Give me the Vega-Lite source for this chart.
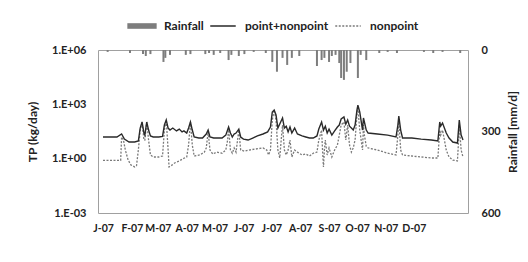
{
  "$schema": "https://vega.github.io/schema/vega-lite/v6.json",
  "width": 370,
  "height": 163,
  "autosize": "none",
  "padding": {"left": 98, "top": 50, "right": 60, "bottom": 49},
  "background": "white",
  "config": {
    "view": {"stroke": "#a0a0a0", "strokeWidth": 1},
    "font": "Lato",
    "axis": {"labelFont": "Lato", "labelFontWeight": "bold", "labelFontSize": 11, "labelColor": "#222", "titleFont": "Lato", "titleFontWeight": "bold", "titleFontSize": 12, "titleColor": "#222", "grid": false, "ticks": false, "domain": false, "labelOverlap": false},
    "axisX": {"labelOverlap": false, "labelSeparation": 0}
  },
  "datasets": {
    "tp": [
      {"date": "2007-01-01", "series": "point+nonpoint", "tp": 15.7},
      {"date": "2007-01-08", "series": "point+nonpoint", "tp": 15.7},
      {"date": "2007-01-16", "series": "point+nonpoint", "tp": 15.7},
      {"date": "2007-01-21", "series": "point+nonpoint", "tp": 23},
      {"date": "2007-01-24", "series": "point+nonpoint", "tp": 12},
      {"date": "2007-01-29", "series": "point+nonpoint", "tp": 8.3},
      {"date": "2007-02-04", "series": "point+nonpoint", "tp": 8.3},
      {"date": "2007-02-08", "series": "point+nonpoint", "tp": 9.4},
      {"date": "2007-02-10", "series": "point+nonpoint", "tp": 49},
      {"date": "2007-02-12", "series": "point+nonpoint", "tp": 106},
      {"date": "2007-02-14", "series": "point+nonpoint", "tp": 26},
      {"date": "2007-02-15", "series": "point+nonpoint", "tp": 20},
      {"date": "2007-02-17", "series": "point+nonpoint", "tp": 106},
      {"date": "2007-02-19", "series": "point+nonpoint", "tp": 38},
      {"date": "2007-02-21", "series": "point+nonpoint", "tp": 18},
      {"date": "2007-02-24", "series": "point+nonpoint", "tp": 15.7},
      {"date": "2007-03-02", "series": "point+nonpoint", "tp": 15.7},
      {"date": "2007-03-06", "series": "point+nonpoint", "tp": 17},
      {"date": "2007-03-08", "series": "point+nonpoint", "tp": 72},
      {"date": "2007-03-10", "series": "point+nonpoint", "tp": 136},
      {"date": "2007-03-12", "series": "point+nonpoint", "tp": 49},
      {"date": "2007-03-14", "series": "point+nonpoint", "tp": 38},
      {"date": "2007-03-17", "series": "point+nonpoint", "tp": 49},
      {"date": "2007-03-21", "series": "point+nonpoint", "tp": 34},
      {"date": "2007-03-24", "series": "point+nonpoint", "tp": 43},
      {"date": "2007-03-27", "series": "point+nonpoint", "tp": 30},
      {"date": "2007-03-29", "series": "point+nonpoint", "tp": 34},
      {"date": "2007-04-01", "series": "point+nonpoint", "tp": 26},
      {"date": "2007-04-03", "series": "point+nonpoint", "tp": 49},
      {"date": "2007-04-05", "series": "point+nonpoint", "tp": 106},
      {"date": "2007-04-07", "series": "point+nonpoint", "tp": 38},
      {"date": "2007-04-09", "series": "point+nonpoint", "tp": 15.7},
      {"date": "2007-04-14", "series": "point+nonpoint", "tp": 13.8},
      {"date": "2007-04-18", "series": "point+nonpoint", "tp": 13.8},
      {"date": "2007-04-22", "series": "point+nonpoint", "tp": 23},
      {"date": "2007-04-24", "series": "point+nonpoint", "tp": 38},
      {"date": "2007-04-26", "series": "point+nonpoint", "tp": 15.7},
      {"date": "2007-04-30", "series": "point+nonpoint", "tp": 13.8},
      {"date": "2007-05-09", "series": "point+nonpoint", "tp": 13.8},
      {"date": "2007-05-13", "series": "point+nonpoint", "tp": 20},
      {"date": "2007-05-16", "series": "point+nonpoint", "tp": 56},
      {"date": "2007-05-18", "series": "point+nonpoint", "tp": 26},
      {"date": "2007-05-20", "series": "point+nonpoint", "tp": 15.7},
      {"date": "2007-05-22", "series": "point+nonpoint", "tp": 23},
      {"date": "2007-05-24", "series": "point+nonpoint", "tp": 26},
      {"date": "2007-05-27", "series": "point+nonpoint", "tp": 43},
      {"date": "2007-05-29", "series": "point+nonpoint", "tp": 15.7},
      {"date": "2007-06-01", "series": "point+nonpoint", "tp": 12},
      {"date": "2007-06-06", "series": "point+nonpoint", "tp": 10.7},
      {"date": "2007-06-11", "series": "point+nonpoint", "tp": 13.8},
      {"date": "2007-06-16", "series": "point+nonpoint", "tp": 18},
      {"date": "2007-06-22", "series": "point+nonpoint", "tp": 23},
      {"date": "2007-06-27", "series": "point+nonpoint", "tp": 30},
      {"date": "2007-06-30", "series": "point+nonpoint", "tp": 56},
      {"date": "2007-07-02", "series": "point+nonpoint", "tp": 380},
      {"date": "2007-07-04", "series": "point+nonpoint", "tp": 486},
      {"date": "2007-07-06", "series": "point+nonpoint", "tp": 259},
      {"date": "2007-07-08", "series": "point+nonpoint", "tp": 49},
      {"date": "2007-07-11", "series": "point+nonpoint", "tp": 106},
      {"date": "2007-07-13", "series": "point+nonpoint", "tp": 176},
      {"date": "2007-07-15", "series": "point+nonpoint", "tp": 49},
      {"date": "2007-07-17", "series": "point+nonpoint", "tp": 62},
      {"date": "2007-07-19", "series": "point+nonpoint", "tp": 30},
      {"date": "2007-07-21", "series": "point+nonpoint", "tp": 56},
      {"date": "2007-07-23", "series": "point+nonpoint", "tp": 26},
      {"date": "2007-07-26", "series": "point+nonpoint", "tp": 49},
      {"date": "2007-07-29", "series": "point+nonpoint", "tp": 23},
      {"date": "2007-08-03", "series": "point+nonpoint", "tp": 18},
      {"date": "2007-08-07", "series": "point+nonpoint", "tp": 15.7},
      {"date": "2007-08-11", "series": "point+nonpoint", "tp": 13.8},
      {"date": "2007-08-15", "series": "point+nonpoint", "tp": 13.8},
      {"date": "2007-08-19", "series": "point+nonpoint", "tp": 18},
      {"date": "2007-08-21", "series": "point+nonpoint", "tp": 43},
      {"date": "2007-08-24", "series": "point+nonpoint", "tp": 106},
      {"date": "2007-08-26", "series": "point+nonpoint", "tp": 38},
      {"date": "2007-08-28", "series": "point+nonpoint", "tp": 62},
      {"date": "2007-08-30", "series": "point+nonpoint", "tp": 26},
      {"date": "2007-09-01", "series": "point+nonpoint", "tp": 43},
      {"date": "2007-09-04", "series": "point+nonpoint", "tp": 20},
      {"date": "2007-09-07", "series": "point+nonpoint", "tp": 34},
      {"date": "2007-09-10", "series": "point+nonpoint", "tp": 56},
      {"date": "2007-09-12", "series": "point+nonpoint", "tp": 72},
      {"date": "2007-09-14", "series": "point+nonpoint", "tp": 155},
      {"date": "2007-09-17", "series": "point+nonpoint", "tp": 200},
      {"date": "2007-09-19", "series": "point+nonpoint", "tp": 80},
      {"date": "2007-09-21", "series": "point+nonpoint", "tp": 136},
      {"date": "2007-09-23", "series": "point+nonpoint", "tp": 62},
      {"date": "2007-09-25", "series": "point+nonpoint", "tp": 49},
      {"date": "2007-09-27", "series": "point+nonpoint", "tp": 38},
      {"date": "2007-09-29", "series": "point+nonpoint", "tp": 72},
      {"date": "2007-10-01", "series": "point+nonpoint", "tp": 486},
      {"date": "2007-10-02", "series": "point+nonpoint", "tp": 912},
      {"date": "2007-10-04", "series": "point+nonpoint", "tp": 380},
      {"date": "2007-10-07", "series": "point+nonpoint", "tp": 38},
      {"date": "2007-10-08", "series": "point+nonpoint", "tp": 176},
      {"date": "2007-10-09", "series": "point+nonpoint", "tp": 106},
      {"date": "2007-10-11", "series": "point+nonpoint", "tp": 38},
      {"date": "2007-10-13", "series": "point+nonpoint", "tp": 26},
      {"date": "2007-10-23", "series": "point+nonpoint", "tp": 23},
      {"date": "2007-11-03", "series": "point+nonpoint", "tp": 20},
      {"date": "2007-11-12", "series": "point+nonpoint", "tp": 15.7},
      {"date": "2007-11-14", "series": "point+nonpoint", "tp": 72},
      {"date": "2007-11-15", "series": "point+nonpoint", "tp": 227},
      {"date": "2007-11-17", "series": "point+nonpoint", "tp": 38},
      {"date": "2007-11-19", "series": "point+nonpoint", "tp": 13.8},
      {"date": "2007-11-29", "series": "point+nonpoint", "tp": 13.8},
      {"date": "2007-12-09", "series": "point+nonpoint", "tp": 12},
      {"date": "2007-12-20", "series": "point+nonpoint", "tp": 10.7},
      {"date": "2007-12-27", "series": "point+nonpoint", "tp": 9.4},
      {"date": "2007-12-29", "series": "point+nonpoint", "tp": 106},
      {"date": "2007-12-30", "series": "point+nonpoint", "tp": 62},
      {"date": "2008-01-01", "series": "point+nonpoint", "tp": 93},
      {"date": "2008-01-05", "series": "point+nonpoint", "tp": 26},
      {"date": "2008-01-08", "series": "point+nonpoint", "tp": 13.8},
      {"date": "2008-01-12", "series": "point+nonpoint", "tp": 8.3},
      {"date": "2008-01-17", "series": "point+nonpoint", "tp": 7.3},
      {"date": "2008-01-18", "series": "point+nonpoint", "tp": 30},
      {"date": "2008-01-19", "series": "point+nonpoint", "tp": 136},
      {"date": "2008-01-21", "series": "point+nonpoint", "tp": 20},
      {"date": "2008-01-23", "series": "point+nonpoint", "tp": 10.7},
      {"date": "2007-01-01", "series": "nonpoint", "tp": 0.8},
      {"date": "2007-01-17", "series": "nonpoint", "tp": 0.8},
      {"date": "2007-01-20", "series": "nonpoint", "tp": 0.8},
      {"date": "2007-01-21", "series": "nonpoint", "tp": 15.7},
      {"date": "2007-01-23", "series": "nonpoint", "tp": 10.7},
      {"date": "2007-01-25", "series": "nonpoint", "tp": 3},
      {"date": "2007-01-28", "series": "nonpoint", "tp": 0.84},
      {"date": "2007-01-31", "series": "nonpoint", "tp": 0.45},
      {"date": "2007-02-04", "series": "nonpoint", "tp": 0.35},
      {"date": "2007-02-06", "series": "nonpoint", "tp": 0.4},
      {"date": "2007-02-08", "series": "nonpoint", "tp": 3},
      {"date": "2007-02-10", "series": "nonpoint", "tp": 38},
      {"date": "2007-02-12", "series": "nonpoint", "tp": 106},
      {"date": "2007-02-14", "series": "nonpoint", "tp": 10.7},
      {"date": "2007-02-15", "series": "nonpoint", "tp": 10.7},
      {"date": "2007-02-17", "series": "nonpoint", "tp": 106},
      {"date": "2007-02-19", "series": "nonpoint", "tp": 10.7},
      {"date": "2007-02-21", "series": "nonpoint", "tp": 1.6},
      {"date": "2007-02-24", "series": "nonpoint", "tp": 1.24},
      {"date": "2007-03-02", "series": "nonpoint", "tp": 1.24},
      {"date": "2007-03-06", "series": "nonpoint", "tp": 1.4},
      {"date": "2007-03-08", "series": "nonpoint", "tp": 38},
      {"date": "2007-03-10", "series": "nonpoint", "tp": 136},
      {"date": "2007-03-12", "series": "nonpoint", "tp": 3},
      {"date": "2007-03-13", "series": "nonpoint", "tp": 0.35},
      {"date": "2007-03-15", "series": "nonpoint", "tp": 0.4},
      {"date": "2007-03-19", "series": "nonpoint", "tp": 0.58},
      {"date": "2007-03-24", "series": "nonpoint", "tp": 0.75},
      {"date": "2007-03-28", "series": "nonpoint", "tp": 1.0},
      {"date": "2007-04-01", "series": "nonpoint", "tp": 1.24},
      {"date": "2007-04-03", "series": "nonpoint", "tp": 5.7},
      {"date": "2007-04-05", "series": "nonpoint", "tp": 106},
      {"date": "2007-04-07", "series": "nonpoint", "tp": 5.7},
      {"date": "2007-04-09", "series": "nonpoint", "tp": 1.4},
      {"date": "2007-04-15", "series": "nonpoint", "tp": 1.6},
      {"date": "2007-04-20", "series": "nonpoint", "tp": 2.3},
      {"date": "2007-04-22", "series": "nonpoint", "tp": 3.9},
      {"date": "2007-04-24", "series": "nonpoint", "tp": 30},
      {"date": "2007-04-26", "series": "nonpoint", "tp": 3},
      {"date": "2007-04-29", "series": "nonpoint", "tp": 1.8},
      {"date": "2007-05-03", "series": "nonpoint", "tp": 2.3},
      {"date": "2007-05-09", "series": "nonpoint", "tp": 2.0},
      {"date": "2007-05-13", "series": "nonpoint", "tp": 3.0},
      {"date": "2007-05-15", "series": "nonpoint", "tp": 10.7},
      {"date": "2007-05-16", "series": "nonpoint", "tp": 49},
      {"date": "2007-05-18", "series": "nonpoint", "tp": 3},
      {"date": "2007-05-20", "series": "nonpoint", "tp": 2.0},
      {"date": "2007-05-22", "series": "nonpoint", "tp": 3.9},
      {"date": "2007-05-24", "series": "nonpoint", "tp": 2.3},
      {"date": "2007-05-27", "series": "nonpoint", "tp": 38},
      {"date": "2007-05-29", "series": "nonpoint", "tp": 3},
      {"date": "2007-06-02", "series": "nonpoint", "tp": 2.6},
      {"date": "2007-06-07", "series": "nonpoint", "tp": 3.0},
      {"date": "2007-06-14", "series": "nonpoint", "tp": 3.4},
      {"date": "2007-06-22", "series": "nonpoint", "tp": 3.9},
      {"date": "2007-06-26", "series": "nonpoint", "tp": 3.0},
      {"date": "2007-06-28", "series": "nonpoint", "tp": 1.6},
      {"date": "2007-06-30", "series": "nonpoint", "tp": 3},
      {"date": "2007-07-02", "series": "nonpoint", "tp": 136},
      {"date": "2007-07-04", "series": "nonpoint", "tp": 486},
      {"date": "2007-07-06", "series": "nonpoint", "tp": 136},
      {"date": "2007-07-08", "series": "nonpoint", "tp": 3},
      {"date": "2007-07-10", "series": "nonpoint", "tp": 1.1},
      {"date": "2007-07-12", "series": "nonpoint", "tp": 20},
      {"date": "2007-07-13", "series": "nonpoint", "tp": 72},
      {"date": "2007-07-15", "series": "nonpoint", "tp": 3},
      {"date": "2007-07-17", "series": "nonpoint", "tp": 1.6},
      {"date": "2007-07-19", "series": "nonpoint", "tp": 3},
      {"date": "2007-07-21", "series": "nonpoint", "tp": 10.7},
      {"date": "2007-07-23", "series": "nonpoint", "tp": 1.24},
      {"date": "2007-07-26", "series": "nonpoint", "tp": 3},
      {"date": "2007-07-29", "series": "nonpoint", "tp": 2.3},
      {"date": "2007-08-03", "series": "nonpoint", "tp": 1.6},
      {"date": "2007-08-07", "series": "nonpoint", "tp": 1.8},
      {"date": "2007-08-11", "series": "nonpoint", "tp": 1.4},
      {"date": "2007-08-15", "series": "nonpoint", "tp": 2.0},
      {"date": "2007-08-19", "series": "nonpoint", "tp": 2.3},
      {"date": "2007-08-21", "series": "nonpoint", "tp": 10.7},
      {"date": "2007-08-24", "series": "nonpoint", "tp": 38},
      {"date": "2007-08-25", "series": "nonpoint", "tp": 3},
      {"date": "2007-08-26", "series": "nonpoint", "tp": 0.35},
      {"date": "2007-08-27", "series": "nonpoint", "tp": 3},
      {"date": "2007-08-28", "series": "nonpoint", "tp": 10.7},
      {"date": "2007-08-30", "series": "nonpoint", "tp": 1.6},
      {"date": "2007-09-01", "series": "nonpoint", "tp": 3.9},
      {"date": "2007-09-04", "series": "nonpoint", "tp": 1.24},
      {"date": "2007-09-07", "series": "nonpoint", "tp": 3},
      {"date": "2007-09-10", "series": "nonpoint", "tp": 5.7},
      {"date": "2007-09-12", "series": "nonpoint", "tp": 20},
      {"date": "2007-09-14", "series": "nonpoint", "tp": 72},
      {"date": "2007-09-17", "series": "nonpoint", "tp": 106},
      {"date": "2007-09-19", "series": "nonpoint", "tp": 10.7},
      {"date": "2007-09-21", "series": "nonpoint", "tp": 72},
      {"date": "2007-09-23", "series": "nonpoint", "tp": 5.7},
      {"date": "2007-09-25", "series": "nonpoint", "tp": 2.3},
      {"date": "2007-09-27", "series": "nonpoint", "tp": 3.9},
      {"date": "2007-09-29", "series": "nonpoint", "tp": 10.7},
      {"date": "2007-10-01", "series": "nonpoint", "tp": 259},
      {"date": "2007-10-02", "series": "nonpoint", "tp": 630},
      {"date": "2007-10-04", "series": "nonpoint", "tp": 38},
      {"date": "2007-10-07", "series": "nonpoint", "tp": 3},
      {"date": "2007-10-08", "series": "nonpoint", "tp": 72},
      {"date": "2007-10-09", "series": "nonpoint", "tp": 20},
      {"date": "2007-10-11", "series": "nonpoint", "tp": 4.8},
      {"date": "2007-10-13", "series": "nonpoint", "tp": 3.9},
      {"date": "2007-10-23", "series": "nonpoint", "tp": 3.0},
      {"date": "2007-11-03", "series": "nonpoint", "tp": 2.0},
      {"date": "2007-11-12", "series": "nonpoint", "tp": 1.6},
      {"date": "2007-11-14", "series": "nonpoint", "tp": 20},
      {"date": "2007-11-15", "series": "nonpoint", "tp": 136},
      {"date": "2007-11-17", "series": "nonpoint", "tp": 3},
      {"date": "2007-11-19", "series": "nonpoint", "tp": 1.6},
      {"date": "2007-11-29", "series": "nonpoint", "tp": 1.4},
      {"date": "2007-12-09", "series": "nonpoint", "tp": 1.24},
      {"date": "2007-12-20", "series": "nonpoint", "tp": 1.09},
      {"date": "2007-12-27", "series": "nonpoint", "tp": 1.09},
      {"date": "2007-12-29", "series": "nonpoint", "tp": 38},
      {"date": "2007-12-30", "series": "nonpoint", "tp": 20},
      {"date": "2008-01-01", "series": "nonpoint", "tp": 38},
      {"date": "2008-01-05", "series": "nonpoint", "tp": 3},
      {"date": "2008-01-08", "series": "nonpoint", "tp": 1.24},
      {"date": "2008-01-12", "series": "nonpoint", "tp": 0.84},
      {"date": "2008-01-17", "series": "nonpoint", "tp": 0.75},
      {"date": "2008-01-18", "series": "nonpoint", "tp": 5.7},
      {"date": "2008-01-19", "series": "nonpoint", "tp": 72},
      {"date": "2008-01-21", "series": "nonpoint", "tp": 3},
      {"date": "2008-01-23", "series": "nonpoint", "tp": 1.24}
    ],
    "rain": [
      {"date": "2007-01-06", "series": "Rainfall", "rain": 7},
      {"date": "2007-01-30", "series": "Rainfall", "rain": 11},
      {"date": "2007-02-13", "series": "Rainfall", "rain": 15},
      {"date": "2007-02-16", "series": "Rainfall", "rain": 22},
      {"date": "2007-02-21", "series": "Rainfall", "rain": 15},
      {"date": "2007-03-07", "series": "Rainfall", "rain": 44},
      {"date": "2007-03-09", "series": "Rainfall", "rain": 29},
      {"date": "2007-03-14", "series": "Rainfall", "rain": 18},
      {"date": "2007-03-31", "series": "Rainfall", "rain": 18},
      {"date": "2007-04-05", "series": "Rainfall", "rain": 15},
      {"date": "2007-04-21", "series": "Rainfall", "rain": 15},
      {"date": "2007-04-25", "series": "Rainfall", "rain": 11},
      {"date": "2007-04-30", "series": "Rainfall", "rain": 18},
      {"date": "2007-05-07", "series": "Rainfall", "rain": 11},
      {"date": "2007-05-16", "series": "Rainfall", "rain": 37},
      {"date": "2007-05-19", "series": "Rainfall", "rain": 18},
      {"date": "2007-05-27", "series": "Rainfall", "rain": 22},
      {"date": "2007-06-02", "series": "Rainfall", "rain": 15},
      {"date": "2007-06-12", "series": "Rainfall", "rain": 7},
      {"date": "2007-06-25", "series": "Rainfall", "rain": 11},
      {"date": "2007-07-02", "series": "Rainfall", "rain": 44},
      {"date": "2007-07-07", "series": "Rainfall", "rain": 80},
      {"date": "2007-07-13", "series": "Rainfall", "rain": 29},
      {"date": "2007-07-18", "series": "Rainfall", "rain": 55},
      {"date": "2007-07-23", "series": "Rainfall", "rain": 29},
      {"date": "2007-07-31", "series": "Rainfall", "rain": 22},
      {"date": "2007-08-19", "series": "Rainfall", "rain": 59},
      {"date": "2007-08-24", "series": "Rainfall", "rain": 37},
      {"date": "2007-08-27", "series": "Rainfall", "rain": 29},
      {"date": "2007-09-01", "series": "Rainfall", "rain": 44},
      {"date": "2007-09-04", "series": "Rainfall", "rain": 22},
      {"date": "2007-09-08", "series": "Rainfall", "rain": 18},
      {"date": "2007-09-12", "series": "Rainfall", "rain": 48},
      {"date": "2007-09-14", "series": "Rainfall", "rain": 103},
      {"date": "2007-09-17", "series": "Rainfall", "rain": 110},
      {"date": "2007-09-20", "series": "Rainfall", "rain": 80},
      {"date": "2007-09-24", "series": "Rainfall", "rain": 48},
      {"date": "2007-10-02", "series": "Rainfall", "rain": 103},
      {"date": "2007-10-05", "series": "Rainfall", "rain": 18},
      {"date": "2007-10-11", "series": "Rainfall", "rain": 37},
      {"date": "2007-10-25", "series": "Rainfall", "rain": 11},
      {"date": "2007-11-03", "series": "Rainfall", "rain": 7},
      {"date": "2007-11-13", "series": "Rainfall", "rain": 11},
      {"date": "2007-12-12", "series": "Rainfall", "rain": 7},
      {"date": "2007-12-22", "series": "Rainfall", "rain": 11},
      {"date": "2008-01-01", "series": "Rainfall", "rain": 7},
      {"date": "2008-01-20", "series": "Rainfall", "rain": 11}
    ]
  },
  "encoding": {
    "x": {
      "field": "date", "type": "temporal",
      "scale": {"type": "utc", "domain": [{"year": 2007, "month": 1, "date": 1, "utc": true}, {"year": 2008, "month": 1, "date": 23, "utc": true}]},
      "axis": {
        "title": null, "labelPadding": 10, "labelOverlap": false, "labelFlush": false, "labelFontSize": 10.5,
        "values": [
          {"year": 2007, "month": 1, "date": 1, "utc": true},
          {"year": 2007, "month": 2, "date": 1, "utc": true},
          {"year": 2007, "month": 3, "date": 1, "utc": true},
          {"year": 2007, "month": 4, "date": 1, "utc": true},
          {"year": 2007, "month": 5, "date": 1, "utc": true},
          {"year": 2007, "month": 6, "date": 1, "utc": true},
          {"year": 2007, "month": 7, "date": 1, "utc": true},
          {"year": 2007, "month": 8, "date": 1, "utc": true},
          {"year": 2007, "month": 9, "date": 1, "utc": true},
          {"year": 2007, "month": 10, "date": 1, "utc": true},
          {"year": 2007, "month": 11, "date": 1, "utc": true},
          {"year": 2007, "month": 12, "date": 1, "utc": true}
        ],
        "labelExpr": "substring(utcFormat(datum.value, '%b'), 0, 1) + '-' + utcFormat(datum.value, '%y')"
      }
    }
  },
  "layer": [
    {
      "data": {"name": "rain"},
      "mark": {"type": "bar", "size": 2},
      "encoding": {
        "y": {
          "field": "rain", "type": "quantitative",
          "scale": {"domain": [0, 600], "reverse": true, "nice": false},
          "axis": {"orient": "right", "values": [0, 300, 600], "title": "Rainfall [mm/d]", "labelPadding": 13, "titleAngle": 270, "titlePadding": 19}
        },
        "color": {
          "field": "series", "type": "nominal",
          "scale": {"domain": ["Rainfall", "point+nonpoint", "nonpoint"], "range": ["#7d7d7d", "#2a2a2a", "#7a7a7a"]},
          "legend": {
            "orient": "none", "legendX": 38, "legendY": -30, "direction": "horizontal", "title": null,
            "symbolType": "stroke", "symbolSize": 650, "symbolStrokeWidth": 1.5,
            "labelFont": "Lato", "labelFontSize": 12, "labelFontWeight": "bold", "labelColor": "#222",
            "columnPadding": 3, "labelOffset": 16,
            "encode": {
              "symbols": {
                "update": {
                  "shape": {"signal": "datum.value === 'Rainfall' ? 'M-1.15,-0.22H1.15V0.22H-1.15Z' : 'stroke'"},
                  "fill": {"signal": "datum.value === 'Rainfall' ? '#7d7d7d' : 'transparent'"},
                  "stroke": {"signal": "datum.value === 'Rainfall' ? '#7d7d7d' : (datum.value === 'nonpoint' ? '#7a7a7a' : '#2a2a2a')"},
                  "strokeWidth": {"signal": "datum.value === 'Rainfall' ? 0 : 1.5"},
                  "strokeDash": {"signal": "datum.value === 'nonpoint' ? [2, 1.5] : [1, 0]"}
                }
              }
            }
          }
        }
      }
    },
    {
      "data": {"name": "tp"},
      "layer": [
        {
          "transform": [{"filter": "datum.series === 'nonpoint'"}],
          "mark": {"type": "line", "strokeWidth": 1.3, "strokeDash": [2, 1.5]},
          "encoding": {
            "y": {"field": "tp", "type": "quantitative", "scale": {"type": "log", "domain": [0.001, 1000000], "nice": false},
              "axis": {"orient": "left", "title": "TP (kg/day)", "values": [0.001, 1, 1000, 1000000], "labelPadding": 12, "titlePadding": 12,
                "labelExpr": "'1.E' + (datum.value < 1 ? '-0' : '+0') + abs(round(log(datum.value) / LN10))"}},
            "color": {"field": "series", "type": "nominal"}
          }
        },
        {
          "transform": [{"filter": "datum.series === 'point+nonpoint'"}],
          "mark": {"type": "line", "strokeWidth": 1.4},
          "encoding": {
            "y": {"field": "tp", "type": "quantitative"},
            "color": {"field": "series", "type": "nominal"}
          }
        }
      ]
    }
  ],
  "resolve": {"scale": {"y": "independent"}, "axis": {"y": "independent"}}
}
